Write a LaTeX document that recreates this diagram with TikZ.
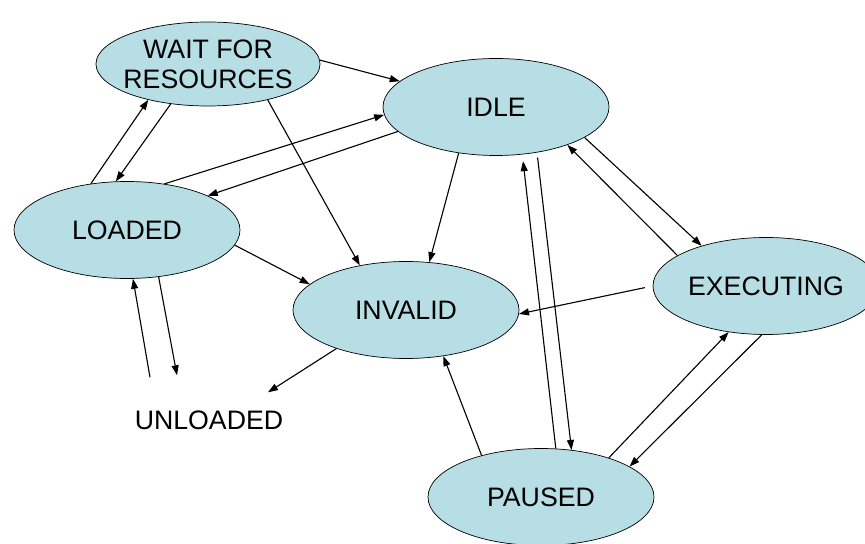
\documentclass[tikz,border=0pt]{standalone}
\usepackage{fontspec}
\setmainfont{Liberation Sans}
\usetikzlibrary{arrows.meta,shapes.geometric,calc}
\definecolor{statefill}{RGB}{183,222,228}

\begin{document}
\begin{tikzpicture}[
    x=0.03cm, y=-0.03cm,
    font=\fontsize{22.8}{25.5}\selectfont,
    state/.style={ellipse, draw, fill=statefill, line width=0.6pt, minimum width=6.78cm, minimum height=2.91cm, inner xsep=-7pt, inner ysep=0pt, align=center},
    arrow/.style={-{Triangle[length=3mm,width=2.1mm]}, line width=0.95pt}
]
    \useasboundingbox (0,0) rectangle (865,544);

    \node[state, minimum width=6.72cm, minimum height=2.52cm] (wait) at (208,64) {WAIT FOR\\RESOURCES};
    \node[state] (idle) at (496,107) {IDLE};
    \node[state] (loaded) at (127,230) {LOADED};
    \node[state] (invalid) at (406,310) {INVALID};
    \node[state] (exec) at (766,286) {EXECUTING};
    \node[state] (paused) at (541,497) {PAUSED};
    \node[inner sep=0pt] (unloaded) at (209,420) {UNLOADED};

    \draw[arrow] (wait.2.5) -- (idle.165.4);
    \draw[arrow] (loaded.128.7) -- (wait.211);
    \draw[arrow] (wait.227) -- (loaded.103.5);
    \draw[arrow] (loaded.51.3) -- (idle.184);
    \draw[arrow] (idle.194.6) -- (loaded.23.6);
    \draw[arrow] (wait.-31) -- (invalid.136.7);
    \draw[arrow] (idle.231.3) -- (invalid.64.4);
    \draw[arrow] (loaded.-8.1) -- (invalid.165.7);
    \draw[arrow] (loaded.-56.3) -- ($(unloaded.north)+(-32,-35)$);
    \draw[arrow] ($(unloaded.north)+(-59,-33)$) -- (loaded.-83);
    \draw[arrow] (invalid.209) -- ($(unloaded.north)+(59,-18)$);
    \draw[arrow, shorten <=0.24cm] (exec.180) -- (invalid.-2);
    \draw[arrow] (idle.-19.3) -- (exec.148.9);
    \draw[arrow] (exec.161.2) -- (idle.-28.3);
    \draw[arrow, shorten >=0.2cm] (paused.73.7) -- (idle.-61.1);
    \draw[arrow, shorten <=0.15cm] (idle.-48.2) -- (paused.57.7);
    \draw[arrow] (paused.30.8) -- (exec.231.2);
    \draw[arrow] (exec.265.4) -- (paused.19);
    \draw[arrow] (paused.145.4) -- (invalid.-51.2);
\end{tikzpicture}
\end{document}
